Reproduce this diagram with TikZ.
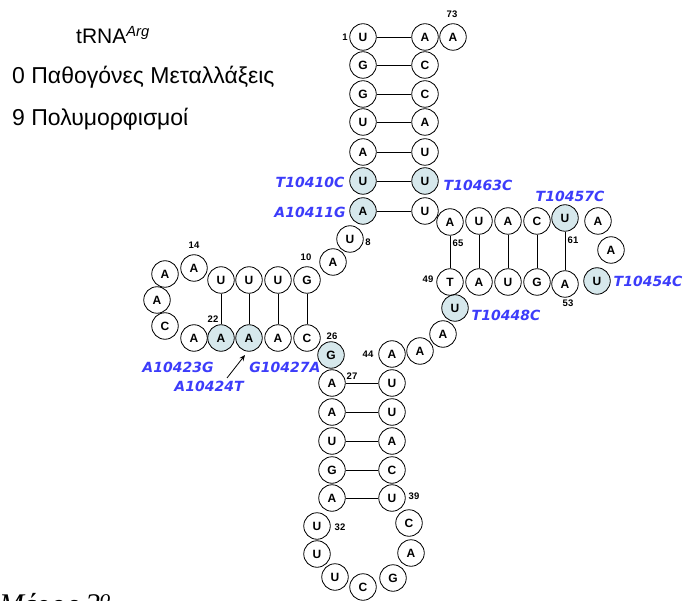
\documentclass[tikz,border=0pt]{standalone}
\usepackage{fontspec}
\setmainfont{Liberation Sans}
\newfontfamily\lblfont{DejaVu Sans}
\newfontfamily\serifit{Liberation Serif}
\usetikzlibrary{arrows.meta}
\definecolor{mutblue}{RGB}{60,60,250}
\definecolor{shadefill}{RGB}{214,232,236}
\begin{document}
\begin{tikzpicture}[x=1pt,y=-1pt,
  nt/.style={circle,draw,line width=0.8pt,minimum size=26.5pt,inner sep=0pt,font=\fontsize{12}{13}\selectfont\bfseries},
  mut/.style={nt,fill=shadefill},
  num/.style={font=\fontsize{9.5}{10}\selectfont\bfseries,inner sep=0pt},
  lbl/.style={text=mutblue,font=\lblfont\fontsize{14}{16}\selectfont\bfseries\itshape,inner sep=0pt},
  bp/.style={line width=0.8pt}]
\clip (0,0) rectangle (685,601);
\useasboundingbox (0,0) rectangle (685,601);
% texts
\node[font=\fontsize{21}{24}\selectfont] (title) at (113,35) {tRNA\textsuperscript{\itshape Arg}};
\node[anchor=west,font=\fontsize{23}{26}\selectfont,inner sep=0pt] (path) at (12,77) {0 Παθογόνες Μεταλλάξεις};
\node[anchor=west,font=\fontsize{23}{26}\selectfont,inner sep=0pt] (poly) at (12,119) {9 Πολυμορφισμοί};
\node[anchor=base west,font=\serifit\fontsize{30}{32}\selectfont\itshape,inner sep=0pt] (part) at (-1,614) {Μέρος 2\textsuperscript{ο}};
% acceptor stem, 5' side
\node[nt]  (a1) at (363,37) {U};
\node[nt]  (a2) at (363,65) {G};
\node[nt]  (a3) at (363,94) {G};
\node[nt]  (a4) at (363,122) {U};
\node[nt]  (a5) at (363,152) {A};
\node[mut] (a6) at (363,181) {U};
\node[mut] (a7) at (363,211) {A};
\node[nt]  (a8) at (350,239) {U};
\node[nt]  (a9) at (333,262) {A};
% D arm
\node[nt]  (a10) at (307,280) {G};
\node[nt]  (a11) at (278,280) {U};
\node[nt]  (a12) at (249,280) {U};
\node[nt]  (a13) at (221,280) {U};
\node[nt]  (a14) at (194,268) {A};
\node[nt]  (a15) at (165,274) {A};
\node[nt]  (a16) at (157,300) {A};
\node[nt]  (a17) at (165,326) {C};
\node[nt]  (a18) at (194,338) {A};
\node[mut] (a19) at (221,338) {A};
\node[mut] (a20) at (249,338) {A};
\node[nt]  (a21) at (278,338) {A};
\node[nt]  (a22) at (307,338) {C};
\node[mut] (a23) at (331,355) {G};
% anticodon arm
\node[nt]  (a24) at (332,383) {A};
\node[nt]  (a25) at (332,412) {A};
\node[nt]  (a26) at (332,441) {U};
\node[nt]  (a27) at (332,470) {G};
\node[nt]  (a28) at (332,498) {A};
\node[nt]  (a29) at (317,526) {U};
\node[nt]  (a30) at (317,554) {U};
\node[nt]  (a31) at (335,577) {U};
\node[nt]  (a32) at (363,587) {C};
\node[nt]  (a33) at (393,578) {G};
\node[nt]  (a34) at (411,553) {A};
\node[nt]  (a35) at (409,523) {C};
\node[nt]  (a36) at (392,498) {U};
\node[nt]  (a37) at (392,470) {C};
\node[nt]  (a38) at (392,441) {A};
\node[nt]  (a39) at (392,412) {U};
\node[nt]  (a40) at (392,383) {U};
% variable loop
\node[nt]  (a41) at (392,354) {A};
\node[nt]  (a42) at (420,351) {A};
\node[nt]  (a43) at (443,334) {A};
\node[mut] (a44) at (455,308) {U};
% T arm
\node[nt]  (a45) at (450,282) {T};
\node[nt]  (a46) at (479,282) {A};
\node[nt]  (a47) at (508,282) {U};
\node[nt]  (a48) at (537,282) {G};
\node[nt]  (a49) at (565,284) {A};
\node[mut] (a50) at (597,281) {U};
\node[nt]  (a51) at (611,250) {A};
\node[nt]  (a52) at (598,221) {A};
\node[mut] (a53) at (565,218) {U};
\node[nt]  (a54) at (537,221) {C};
\node[nt]  (a55) at (508,221) {A};
\node[nt]  (a56) at (479,221) {U};
\node[nt]  (a57) at (450,222) {A};
% acceptor stem, 3' side
\node[nt]  (a58) at (425,211) {U};
\node[mut] (a59) at (425,181) {U};
\node[nt]  (a60) at (425,152) {U};
\node[nt]  (a61) at (425,122) {A};
\node[nt]  (a62) at (425,94) {C};
\node[nt]  (a63) at (425,65) {C};
\node[nt]  (a64) at (425,37) {A};
\node[nt]  (a65) at (453,37) {A};
% base pairs
\foreach \p/\q in {a1/a64,a2/a63,a3/a62,a4/a61,a5/a60,a6/a59,a7/a58,
                   a10/a22,a11/a21,a12/a20,a13/a19,
                   a24/a40,a25/a39,a26/a38,a27/a37,a28/a36,
                   a45/a57,a46/a56,a47/a55,a48/a54,a49/a53}
  \draw[bp] (\p) -- (\q);
% position numbers
\node[num] (n73) at (452,14) {73};
\node[num] (n1) at (345,37) {1};
\node[num] (n8) at (368,242) {8};
\node[num] (n10) at (306,257) {10};
\node[num] (n14) at (194,245) {14};
\node[num] (n22) at (213,319) {22};
\node[num] (n26) at (332,336) {26};
\node[num] (n27) at (352,376) {27};
\node[num] (n44) at (368,354) {44};
\node[num] (n32) at (340,527) {32};
\node[num] (n39) at (414,496) {39};
\node[num] (n49) at (428,279) {49};
\node[num] (n53) at (568,303) {53};
\node[num] (n65) at (458,243) {65};
\node[num] (n61) at (573,240) {61};
% mutation labels
\node[lbl] (m1) at (310,182) {T10410C};
\node[lbl] (m2) at (310,212) {A10411G};
\node[lbl] (m3) at (478,185) {T10463C};
\node[lbl] (m4) at (570,196) {T10457C};
\node[lbl] (m5) at (648,281) {T10454C};
\node[lbl] (m6) at (506,315) {T10448C};
\node[lbl] (m7) at (178,367) {A10423G};
\node[lbl] (m8) at (209,386) {A10424T};
\node[lbl] (m9) at (285,367) {G10427A};
\coordinate (arrS) at (227,378);
\coordinate (arrE) at (245,355);
\draw[line width=0.8pt,-{Stealth[length=6pt,width=5pt]}] (arrS) -- (arrE);
\end{tikzpicture}
\end{document}
